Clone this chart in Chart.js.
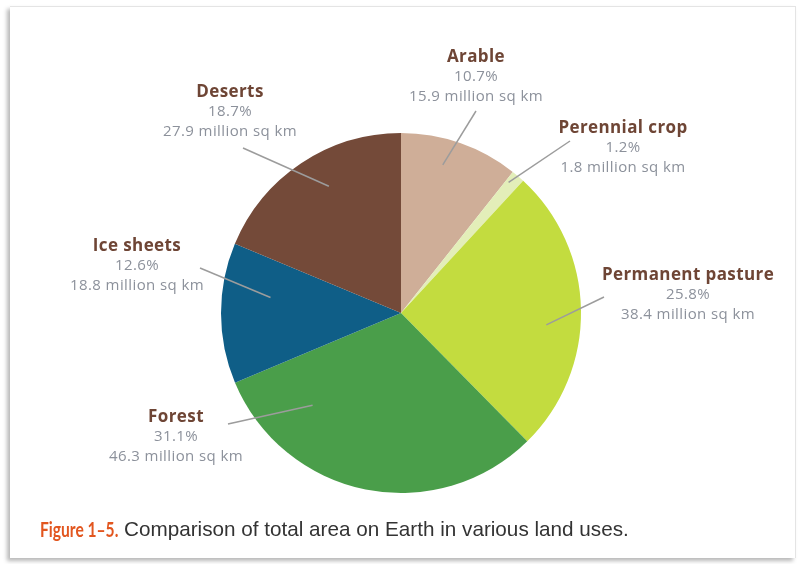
<!DOCTYPE html>
<html>
<head>
<meta charset="utf-8">
<script src="https://cdn.jsdelivr.net/npm/chart.js@4/dist/chart.umd.min.js"></script>
<style>
  html, body { margin: 0; padding: 0; background: #fff; }
  body { width: 798px; height: 564px; position: relative; overflow: hidden; }
  #card {
    position: absolute; left: 10px; top: 6px; width: 785px; height: 551px;
    border-top: 1px solid #e4e4e4; border-right: 1px solid #e4e4e4;
    box-shadow: -3px 3px 4px rgba(0,0,0,0.28);
    background: #fff;
  }
  #wrap { position: absolute; left: 0; top: 0; width: 798px; height: 564px; }
  .cap { position: absolute; top: 517px; white-space: nowrap; }
  #figno {
    left: 40px; font-family: Lato, "Open Sans", sans-serif; font-weight: bold;
    font-size: 20px; color: #e2561f; transform: scaleX(0.78); transform-origin: left center;
  }
  #captext {
    left: 124px; font-family: "Liberation Sans", Arial, sans-serif;
    font-size: 21px; color: #333; transform: scaleX(0.985); transform-origin: left center;
  }
</style>
</head>
<body>
<div id="card"></div>
<div id="wrap"><canvas id="pie" width="798" height="564"></canvas></div>
<div id="figno" class="cap">Figure 1–5.</div>
<div id="captext" class="cap">Comparison of total area on Earth in various land uses.</div>
<script>
const landUses = ["Arable", "Perennial crop", "Permanent pasture", "Forest", "Ice sheets", "Deserts"];
const areaMillionSqKm = [15.9, 1.8, 38.4, 46.3, 18.8, 27.9];
const sharePercent = ["10.7%", "1.2%", "25.8%", "31.1%", "12.6%", "18.7%"];
const sliceColors = ["#cfae98", "#e3eeb9", "#c3dc3f", "#4a9e4a", "#0f5e87", "#744a39"];

// label placement, offsets from the pie centre for a 180px radius
const labelLayout = [
  { tx: 75, ty: -256, ox: 75, oy: -202, af: 0.41, rf: 0.855 },
  { tx: 222, ty: -185, ox: 169, oy: -172, af: 0.25, rf: 0.94 },
  { tx: 287, ty: -38, ox: 203, oy: -16, af: 0.56, rf: 0.81 },
  { tx: -225, ty: 104, ox: -173, oy: 111, af: 0.79, rf: 0.71 },
  { tx: -264, ty: -67, ox: -201, oy: -45, af: 0.65, rf: 0.73 },
  { tx: -171, ty: -221, ox: -158, oy: -165, af: 0.56, rf: 0.81 },
];

const calloutPlugin = {
  id: "callouts",
  afterDatasetsDraw(chart) {
    const ctx = chart.ctx;
    const arcs = chart.getDatasetMeta(0).data;
    ctx.save();
    arcs.forEach((arc, i) => {
      const lay = labelLayout[i];
      const r = arc.outerRadius;
      const k = r / 180;
      const cx = arc.x, cy = arc.y;
      const a = arc.startAngle + (arc.endAngle - arc.startAngle) * lay.af;
      const ix = cx + Math.cos(a) * r * lay.rf;
      const iy = cy + Math.sin(a) * r * lay.rf;

      ctx.strokeStyle = "#9c9c9c";
      ctx.lineWidth = 1.5;
      ctx.beginPath();
      ctx.moveTo(cx + lay.ox * k, cy + lay.oy * k);
      ctx.lineTo(ix, iy);
      ctx.stroke();

      const tx = cx + lay.tx * k;
      const ty = cy + lay.ty * k;
      ctx.textAlign = "center";
      ctx.textBaseline = "middle";
      ctx.fillStyle = "#6e4535";
      ctx.font = "bold 17px 'Open Sans', Lato, sans-serif";
      ctx.letterSpacing = "0.4px";
      ctx.fillText(landUses[i], tx, ty);
      ctx.fillStyle = "#8c919b";
      ctx.font = "15px 'Open Sans', Lato, sans-serif";
      ctx.letterSpacing = "0.4px";
      ctx.fillText(sharePercent[i], tx, ty + 20);
      ctx.fillText(areaMillionSqKm[i].toFixed(1) + " million sq km", tx, ty + 40);
    });
    ctx.restore();
  },
};

new Chart(document.getElementById("pie"), {
  type: "pie",
  data: {
    labels: landUses,
    datasets: [{
      data: areaMillionSqKm,
      backgroundColor: sliceColors,
      borderWidth: 0,
    }],
  },
  options: {
    responsive: false,
    animation: false,
    layout: { padding: { left: 221, right: 217, top: 133, bottom: 71 } },
    plugins: { legend: { display: false }, tooltip: { enabled: false } },
  },
  plugins: [calloutPlugin],
});
</script>
</body>
</html>
